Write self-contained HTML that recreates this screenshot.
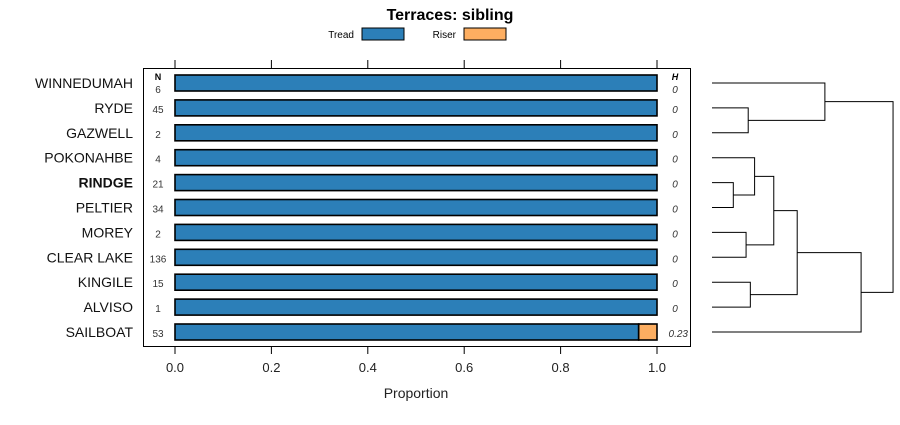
<!DOCTYPE html>
<html><head><meta charset="utf-8"><style>body{margin:0;background:#fff}svg{font-family:"Liberation Sans",sans-serif}</style></head>
<body>
<svg id="c" width="900" height="420"></svg>
<script>
const sites=["WINNEDUMAH","RYDE","GAZWELL","POKONAHBE","RINDGE","PELTIER","MOREY","CLEAR LAKE","KINGILE","ALVISO","SAILBOAT"];
const nValues=[6,45,2,4,21,34,2,136,15,1,53];
const treadValues=[1,1,1,1,1,1,1,1,1,1,0.962];
const riserValues=[0,0,0,0,0,0,0,0,0,0,0.038];
const hLabels=["0","0","0","0","0","0","0","0","0","0","0.23"];
const xTicks=[0,0.2,0.4,0.6,0.8,1.0];
const xTickLabels=["0.0","0.2","0.4","0.6","0.8","1.0"];
// dendrogram merges: [a,b,height]; negative = leaf index (-(i+1)), positive = merge id (1-based)
const merges=[[-5,-6,0.10],[-2,-3,0.17],[-7,-8,0.16],[-9,-10,0.18],[-4,1,0.20],[5,3,0.29],[6,4,0.40],[-1,2,0.53],[7,-11,0.70],[8,9,0.85]];
const svg=document.getElementById('c');const NS="http://www.w3.org/2000/svg";
function el(t,a,txt){const e=document.createElementNS(NS,t);for(const k in a)e.setAttribute(k,a[k]);if(txt!==undefined)e.textContent=txt;svg.appendChild(e);return e;}
const x=v=>175+v*482;const y=i=>83+i*24.9;
let t=el('text',{x:450,y:20,'text-anchor':'middle','font-size':16,'font-weight':'bold'},'Terraces: sibling');

t=el('text',{x:354,y:38,'text-anchor':'end','font-size':10},'Tread');
t=el('rect',{x:362,y:28,width:42,height:12,fill:'#2c7fb8',stroke:'#000'});
t=el('text',{x:456,y:38,'text-anchor':'end','font-size':10},'Riser');
t=el('rect',{x:464,y:28,width:42,height:12,fill:'#fdae61',stroke:'#000'});
t=el('rect',{x:143.5,y:68.5,width:547,height:278,fill:'none',stroke:'#000'});
xTicks.forEach((v,i)=>{
 let a=el('line',{x1:x(v),x2:x(v),y1:60,y2:68,stroke:'#000'});
 a=el('line',{x1:x(v),x2:x(v),y1:346,y2:354,stroke:'#000'});
 a=el('text',{x:x(v),y:372,'text-anchor':'middle','font-size':13,fill:'#222'},xTickLabels[i]);
});
t=el('text',{x:416,y:398,'text-anchor':'middle','font-size':14,fill:'#222'},'Proportion');
t=el('text',{x:158,y:80,'text-anchor':'middle','font-size':9,'font-weight':'bold'},'N');
t=el('text',{x:675,y:80,'text-anchor':'middle','font-size':9,'font-weight':'bold','font-style':'italic'},'H');
sites.forEach((s,i)=>{
 const cy=y(i);
 let a=el('text',{x:133,y:cy+5,'text-anchor':'end','font-size':14,fill:'#111','font-weight':s==='RINDGE'?'bold':'normal'},s);
 a=el('text',{x:158,y:cy+(i===0?10:5),'text-anchor':'middle','font-size':10,fill:'#333'},nValues[i]);
 a=el('rect',{x:x(0),y:cy-8,width:x(treadValues[i])-x(0),height:16,fill:'#2c7fb8',stroke:'#000','stroke-width':1.6});
 if(riserValues[i]>0){a=el('rect',{x:x(treadValues[i]),y:cy-8,width:x(treadValues[i]+riserValues[i])-x(treadValues[i]),height:16,fill:'#fdae61',stroke:'#000','stroke-width':1.6});}
 a=el('text',{x:hLabels[i].length>1?688:675,y:cy+(i===0?10:5),'text-anchor':hLabels[i].length>1?'end':'middle','font-size':10,'font-style':'italic',fill:'#333'},hLabels[i]);
});
// dendrogram
const dx=h=>712+h*213;
const nodes=[];
function pos(r){return r<0?{x:712,y:y(-r-1)}:nodes[r-1];}
merges.forEach(m=>{
 const a=pos(m[0]),b=pos(m[1]),hx=dx(m[2]);
 const p=el('path',{d:`M${a.x},${a.y}H${hx}V${b.y}H${b.x}`,fill:'none',stroke:'#000','stroke-width':1});
 
 nodes.push({x:hx,y:(a.y+b.y)/2});
});
</script>
</body></html>
